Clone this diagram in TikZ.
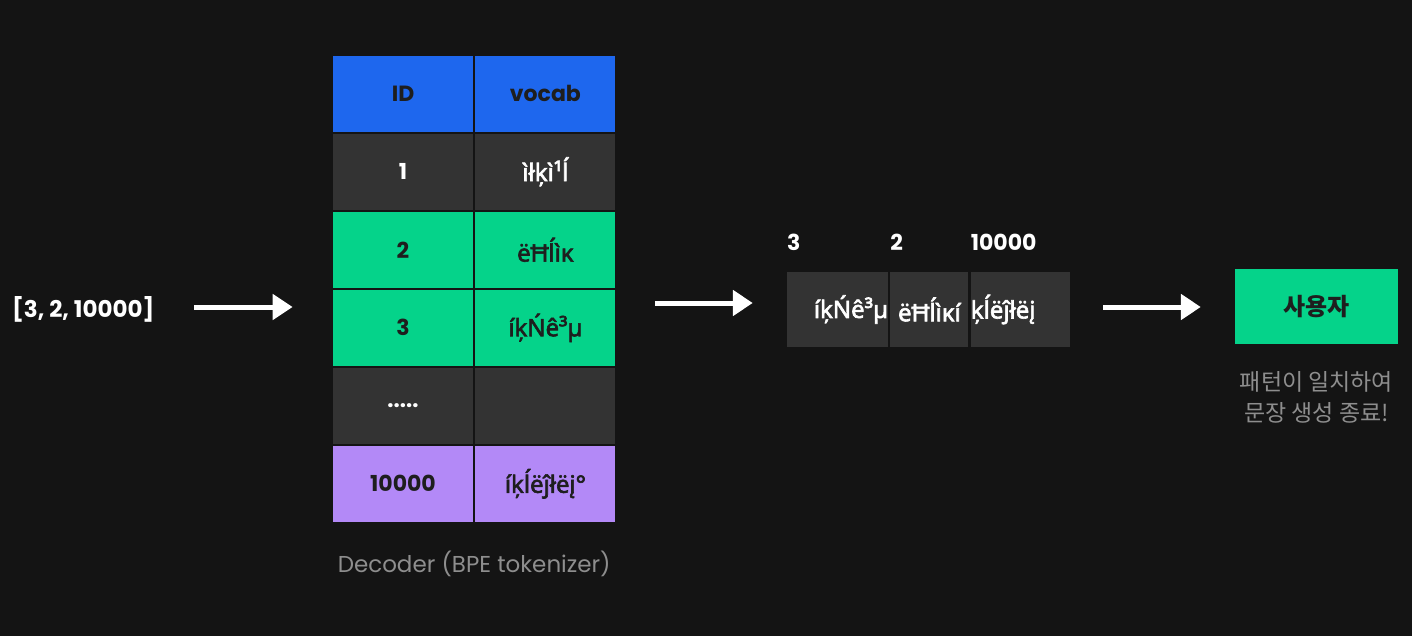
\documentclass[tikz,border=0pt]{standalone}
\usepackage{fontspec}
\setmainfont{Poppins}
\newfontfamily\kofont{Noto Sans CJK KR}
\newfontfamily\vocfont{Noto Sans}[FakeBold=2.5]
\usetikzlibrary{arrows.meta, positioning, fit}

\definecolor{bgdark}{HTML}{141414}
\definecolor{celldark}{HTML}{333333}
\definecolor{headblue}{HTML}{1E67EE}
\definecolor{tokgreen}{HTML}{05D38A}
\definecolor{tokpurple}{HTML}{B389F7}
\definecolor{inkdark}{HTML}{1E1E1E}
\definecolor{capgray}{HTML}{8E8E8E}

\begin{document}
\begin{tikzpicture}[
  x=1pt, y=-1pt,
  font=\fontsize{22}{26}\selectfont,
  node distance=2pt,
  cell/.style={minimum width=140pt, minimum height=75.6pt, inner sep=0pt, text=white},
  voc/.style={cell, font=\vocfont\fontsize{24}{26}\selectfont\bfseries},
  tokbox/.style={fill=celldark, minimum height=75pt, inner sep=0pt, text=white, font=\vocfont\fontsize{24}{26}\selectfont\bfseries},
  idnum/.style={inner sep=0pt, text=white, font=\fontsize{22}{26}\selectfont\bfseries},
  caption/.style={text=capgray, inner sep=0pt, align=center},
  arr/.style={-{Triangle[length=20pt, width=25pt]}, line width=5pt, white}
]
\fill[bgdark] (0,0) rectangle (1412,636);
\useasboundingbox (0,0) rectangle (1412,636);

% input ids
\node[idnum, anchor=west, font=\fontsize{23}{26}\selectfont\bfseries] (input) at (12,309) {[3, 2, 10000]};

% decoder table
\node[cell, fill=headblue, text=inkdark] (id) at (403,93.8) {\bfseries ID};
\node[cell, fill=headblue, text=inkdark, right=of id] (vocab) {\bfseries vocab};
\node[cell, fill=celldark, below=of id] (id1) {\bfseries 1};
\node[voc, fill=celldark, below=of vocab] (voc1) {ìłķì¹ĺ};
\node[cell, fill=tokgreen, text=inkdark, below=of id1] (id2) {\bfseries 2};
\node[voc, fill=tokgreen, text=inkdark, below=of voc1] (voc2) {ëĦĺìĸ};
\node[cell, fill=tokgreen, text=inkdark, below=of id2] (id3) {\bfseries 3};
\node[voc, fill=tokgreen, text=inkdark, below=of voc2] (voc3) {íķŃê³µ};
\node[cell, fill=celldark, below=of id3] (idx) {\bfseries .....};
\node[cell, fill=celldark, below=of voc3] (vocx) {};
\node[cell, fill=tokpurple, text=inkdark, below=of idx] (id5) {\bfseries 10000};
\node[voc, fill=tokpurple, text=inkdark, below=of vocx] (voc5) {íķĺëĵłëį°};
\node[fit=(id)(voc5), inner sep=0pt] (table) {};
\node[caption, below=29pt of table, font=\fontsize{23}{26}\selectfont] (decoder) {Decoder (BPE tokenizer)};

% decoded tokens
\node[tokbox, text width=101pt, align=right] (tok1) at (837.5,309.5) {íķŃê³µ};
\node[tokbox, minimum width=78pt, right=of tok1] (tok2) {ëĦĺìĸí};
\node[tokbox, text width=99pt, align=left, right=of tok2] (tok3) {ķĺëĵłëį};
\node[idnum, above right=21pt and 0pt of tok1.north west] (num1) {3};
\node[idnum, above right=21pt and 0pt of tok2.north west] (num2) {2};
\node[idnum, above right=21pt and 0pt of tok3.north west] (num3) {10000};

% user
\node[fill=tokgreen, minimum width=163pt, minimum height=75pt, inner sep=0pt, text=inkdark, font=\kofont\fontsize{24}{26}\selectfont\bfseries] (user) at (1316.5,306.5) {사용자};
\node[caption, below=27pt of user, font=\kofont\fontsize{23}{31}\selectfont] (done) {패턴이 일치하여\\문장 생성 종료!};

\coordinate (lvlA) at (0,307);
\coordinate (lvlB) at (0,303);
\draw[arr, shorten <=40pt, shorten >=40pt] (input.east |- lvlA) -- (table.west |- lvlA);
\draw[arr, shorten <=39pt, shorten >=34pt] (table.east |- lvlB) -- (tok1.west |- lvlB);
\draw[arr, shorten <=33pt, shorten >=34pt] (tok3.east |- lvlA) -- (user.west |- lvlA);
\end{tikzpicture}
\end{document}
